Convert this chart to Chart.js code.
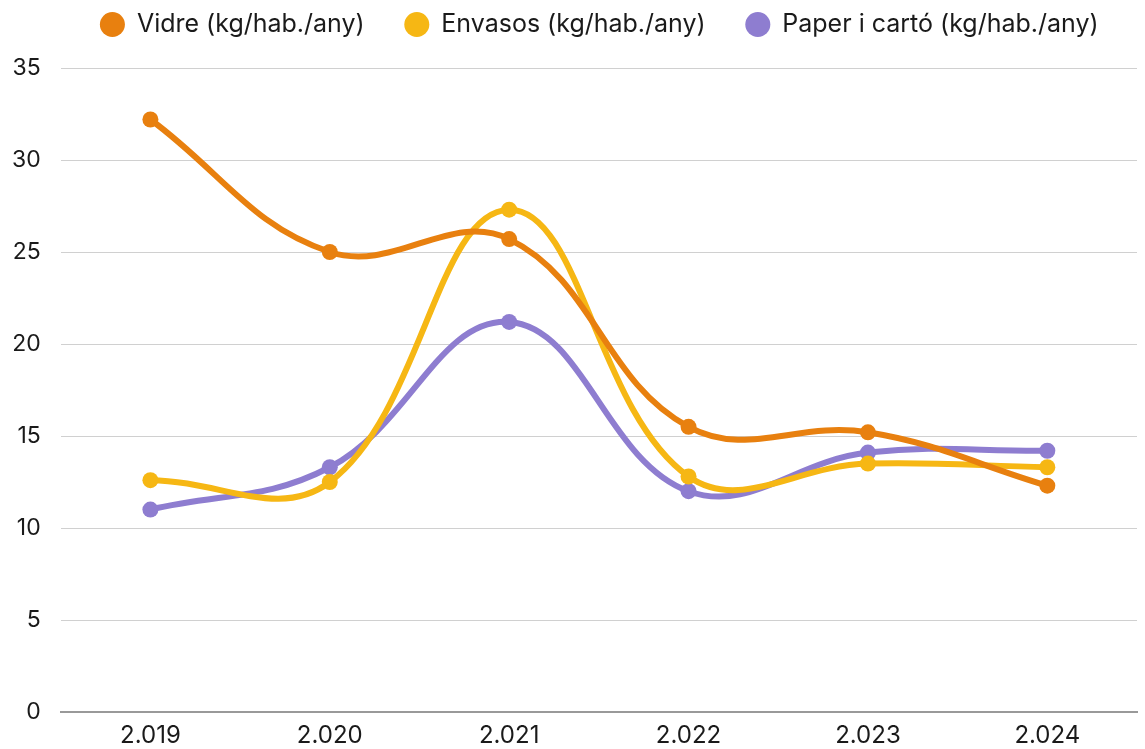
<!DOCTYPE html>
<html>
<head>
<meta charset="utf-8">
<script src="https://cdn.jsdelivr.net/npm/chart.js@4/dist/chart.umd.min.js"></script>
<style>
  html, body { margin: 0; padding: 0; background: #fff; }
  #wrap { width: 1145px; height: 749px; }
</style>
</head>
<body>
<div id="wrap"><canvas id="myGraph"></canvas></div>
<script>
// Dades del gràfic
const years = ["2.019", "2.020", "2.021", "2.022", "2.023", "2.024"];
const vidre = [32.2, 25.0, 25.7, 15.5, 15.2, 12.3];
const envasos = [12.6, 12.5, 27.3, 12.8, 13.5, 13.3];
const paper = [11.0, 13.3, 21.2, 12.0, 14.1, 14.2];

const makeSet = (label, data, color) => ({
    label: label,
    data: data,
    borderColor: color,
    backgroundColor: color,
    borderWidth: 6,
    pointRadius: 8,
    pointHoverRadius: 8,
    pointBorderWidth: 0,
    tension: 0.4,
    fill: false,
});

// Llegenda: alçada fixa i desplaçada cap a la dreta com a l'original
const legendTweak = {
    id: "legendTweak",
    beforeInit(chart) {
        const legend = chart.legend;
        const origFit = legend.fit;
        legend.fit = function () {
            origFit.call(this);
            this.height = 68;
        };
        const origDraw = legend.draw;
        legend.draw = function () {
            this.ctx.save();
            this.ctx.translate(27, 0);
            origDraw.call(this);
            this.ctx.restore();
        };
    },
};

const ctx = document.getElementById("myGraph").getContext("2d");

new Chart(ctx, {
    type: "line",
    data: {
        labels: years,
        datasets: [
            makeSet("Vidre (kg/hab./any)", vidre, "#E8800F"),
            makeSet("Envasos (kg/hab./any)", envasos, "#F6B714"),
            makeSet("Paper i cartó (kg/hab./any)", paper, "#8E7DD0"),
        ],
    },
    plugins: [legendTweak],
    options: {
        responsive: true,
        maintainAspectRatio: false,
        animation: false,
        layout: { padding: 0 },
        plugins: {
            legend: {
                position: "top",
                labels: {
                    usePointStyle: true,
                    pointStyle: "circle",
                    boxWidth: 24,
                    boxHeight: 17.7,
                    padding: 12,
                    color: "#1a1a1a",
                    font: { family: "Inter", size: 25 },
                    generateLabels(chart) {
                        const items = Chart.defaults.plugins.legend.labels.generateLabels(chart);
                        items.forEach((item, i) => {
                            if (i < items.length - 1) item.text += "    ";
                        });
                        return items;
                    },
                },
            },
            tooltip: { enabled: false },
        },
        scales: {
            x: {
                offset: true,
                afterFit: (scale) => {
                    scale.height = 37;
                },
                grid: { display: false, drawTicks: false },
                border: { color: "#999", width: 2 },
                ticks: { color: "#1a1a1a", font: { family: "Inter", size: 24 }, padding: 9 },
            },
            y: {
                min: 0,
                max: 35,
                afterFit: (scale) => {
                    scale.width -= 8;
                },
                ticks: { stepSize: 5, color: "#1a1a1a", font: { family: "Inter", size: 23 }, padding: 20 },
                grid: { color: "#d0d0d0", lineWidth: 1, drawTicks: false },
                border: { display: false },
            },
        },
    },
});
</script>
</body>
</html>
